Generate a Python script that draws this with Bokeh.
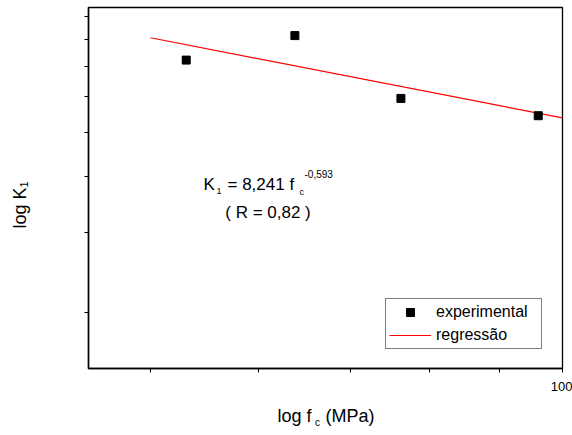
from bokeh.plotting import figure
from bokeh.models import (Range1d, FixedTicker, Legend, LegendItem, Label,
                          LinearAxis, LinearScale)
from bokeh.embed import file_html
from bokeh.resources import INLINE

# ---- data ----
fc_exp = [53.1, 63.75, 76.2, 96.0]
k1_exp = [0.722, 0.818, 0.594, 0.544]
fc_reg = [50, 100]
k1_reg = [0.809, 0.538]
x_ticks = [50, 60, 70, 80, 90, 100]
x_tick_labels = ["", "", "", "", "", "100"]
y_ticks = [0.2, 0.3, 0.4, 0.5, 0.6, 0.7, 0.8, 0.9]
y_tick_labels = ["", "", "", "", "", "", "", ""]
series_names = ["experimental", "regressão"]
x_title = ["log f", "(MPa)"]
x_title_sub = ["c"]
y_title = ["log K\u2081"]

FONT = "Liberation Sans"
FL, FR, FT, FB = 88, 562, 7, 369  # frame edges in page pixels
W, H = 572, 430


def sx(X):
    return X - FL


def sy(Y):
    return FB - Y


p = figure(width=W, height=H, x_axis_type="log", y_axis_type="log",
           x_range=Range1d(45.05, 100), y_range=Range1d(0.1502, 0.9437),
           output_backend="svg", toolbar_location=None,
           min_border_left=FL, min_border_right=W - FR, min_border_top=FT,
           min_border_bottom=H - FB)
p.xgrid.visible = False
p.ygrid.visible = False
p.outline_line_color = "black"
p.outline_line_width = 1.3
p.outline_line_alpha = 1.0
p.background_fill_color = "white"
p.border_fill_color = "white"

for ax in (p.xaxis[0], p.yaxis[0]):
    ax.axis_line_width = 1.5
    ax.axis_line_color = "black"
    ax.major_tick_in = 0
    ax.major_tick_out = 4
    ax.major_tick_line_color = "black"
    ax.major_tick_line_width = 1
    ax.minor_tick_line_color = None
    ax.major_label_text_font = FONT
    ax.major_label_text_font_size = "13px"
    ax.major_label_text_color = "black"

p.xaxis.ticker = FixedTicker(ticks=x_ticks, minor_ticks=[])
p.xaxis.major_label_overrides = {t: l for t, l in zip(x_ticks, x_tick_labels)}
p.xaxis.major_label_standoff = 9
p.yaxis.ticker = FixedTicker(ticks=y_ticks, minor_ticks=[])
p.yaxis.major_label_overrides = {t: l for t, l in zip(y_ticks, y_tick_labels)}
p.yaxis.major_label_standoff = 0

line_r = p.line(fc_reg, k1_reg, line_color="red", line_width=1.2)
sc_r = p.scatter(fc_exp, k1_exp, marker="square", size=8,
                 fill_color="black", line_color="black")

legend = Legend(items=[LegendItem(label=series_names[0], renderers=[sc_r]),
                       LegendItem(label=series_names[1], renderers=[line_r])],
                location=(297, 19), margin=0, padding=3, spacing=3,
                glyph_width=42, glyph_height=20, label_height=20,
                label_width=102, label_standoff=5,
                label_text_font=FONT, label_text_font_size="16px",
                label_text_color="black",
                border_line_color="black", border_line_width=1,
                background_fill_color="white", background_fill_alpha=1.0)
p.add_layout(legend, "center")

# ---- axis titles drawn as tick labels of helper axes (page-pixel ranges) ----
p.extra_x_ranges = {"page": Range1d(FL, FR)}
p.extra_y_ranges = {"page": Range1d(FB, FT)}
p.extra_x_scales = {"page": LinearScale()}
p.extra_y_scales = {"page": LinearScale()}


def title_axis(kind, ticks, labels, size, standoff, orientation="horizontal"):
    if kind == "x":
        ax = LinearAxis(x_range_name="page")
    else:
        ax = LinearAxis(y_range_name="page")
    ax.ticker = FixedTicker(ticks=ticks, minor_ticks=[])
    ax.major_label_overrides = {t: l for t, l in zip(ticks, labels)}
    ax.axis_line_color = None
    ax.major_tick_line_color = None
    ax.minor_tick_line_color = None
    ax.major_tick_in = 0
    ax.major_tick_out = 0
    ax.minor_tick_in = 0
    ax.minor_tick_out = 0
    ax.major_label_text_font = FONT
    ax.major_label_text_font_size = size
    ax.major_label_text_color = "black"
    ax.major_label_standoff = standoff
    ax.major_label_orientation = orientation
    p.add_layout(ax, "below" if kind == "x" else "left")


title_axis("x", [294, 349.5], x_title, "18px", 12)
title_axis("x", [317], x_title_sub, "10px", -12)
title_axis("y", [205], y_title, "18px", 54, orientation="parallel")


def lab(text, X, Y, size, align="left"):
    p.add_layout(Label(x=sx(X), y=sy(Y), x_units="screen", y_units="screen",
                       text=text, text_font=FONT, text_font_size=size,
                       text_color="black", text_align=align,
                       text_baseline="alphabetic"))


# equation annotation
lab("K", 203, 185, "17px")
lab("1", 216, 191, "9px")
lab("= 8,241 f", 227, 185, "17px")
lab("c", 299, 192, "9px")
lab("-0,593", 304, 174, "10px")
lab("( R = 0,82 )", 267.5, 213, "17px", align="center")

open("out.html", "w").write(file_html(p, INLINE))
